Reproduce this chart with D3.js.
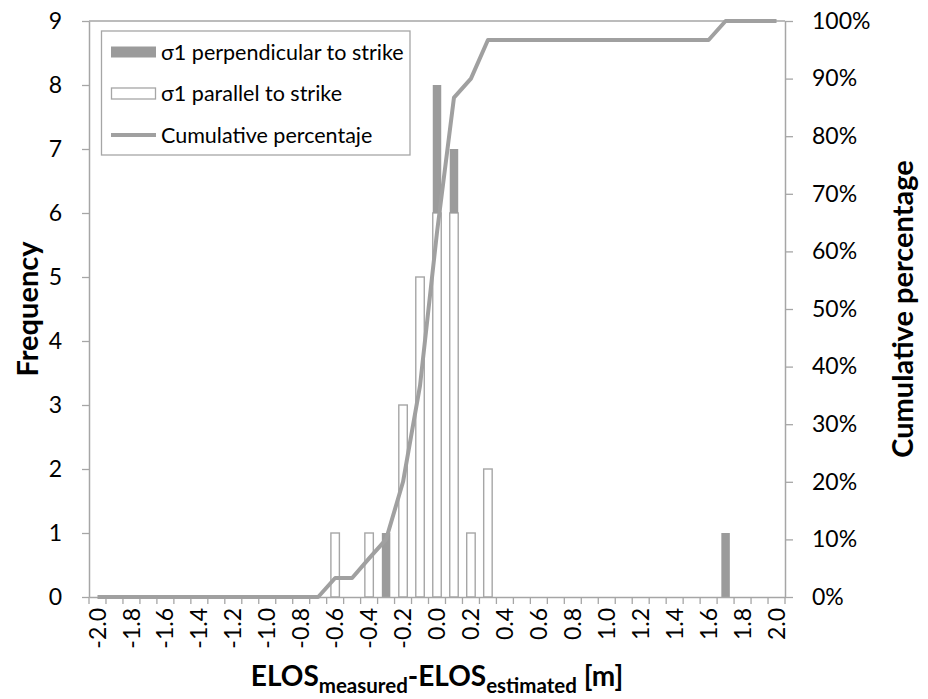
<!DOCTYPE html>
<html>
<head>
<meta charset="utf-8">
<script src="https://cdn.jsdelivr.net/npm/d3@7"></script>
<style>
  body { margin: 0; background: #fff; }
  svg { display: block; font-family: Lato, "Open Sans", sans-serif; }
</style>
</head>
<body>
<div id="chart"></div>
<script>
// bins of ELOS measured - ELOS estimated [m]
const categories = ["-2.0","-1.9","-1.8","-1.7","-1.6","-1.5","-1.4","-1.3","-1.2","-1.1",
  "-1.0","-0.9","-0.8","-0.7","-0.6","-0.5","-0.4","-0.3","-0.2","-0.1",
  "0.0","0.1","0.2","0.3","0.4","0.5","0.6","0.7","0.8","0.9",
  "1.0","1.1","1.2","1.3","1.4","1.5","1.6","1.7","1.8","1.9","2.0"];

// σ1 perpendicular to strike
const perpendicular = [0,0,0,0,0,0,0,0,0,0, 0,0,0,0,0,0,0,1,0,0, 2,1,0,0,0,0,0,0,0,0, 0,0,0,0,0,0,0,1,0,0,0];
// σ1 parallel to strike
const parallel      = [0,0,0,0,0,0,0,0,0,0, 0,0,0,0,1,0,1,0,3,5, 6,6,1,2,0,0,0,0,0,0, 0,0,0,0,0,0,0,0,0,0,0];
// cumulative percentage (%)
const cumulative    = [0,0,0,0,0,0,0,0,0,0, 0,0,0,0,3.3,3.3,6.7,10,20,36.7,
  63.3,86.7,90,96.7,96.7,96.7,96.7,96.7,96.7,96.7, 96.7,96.7,96.7,96.7,96.7,96.7,96.7,100,100,100,100];

const legendLabels = ["σ1 perpendicular to strike", "σ1 parallel to strike", "Cumulative percentaje"];

const width = 928, height = 699;
const margin = {t: 21, r: 143, b: 102, l: 89};
const grey = "#a6a6a6", barGrey = "#9b9b9b", lineGrey = "#a0a0a0";
const tickFont = 23;

const svg = d3.select("#chart").append("svg")
  .attr("width", width).attr("height", height);

const x = d3.scaleBand()
  .domain(categories)
  .range([margin.l, width - margin.r])
  .paddingInner(0.5)
  .paddingOuter(0.25);

const y = d3.scaleLinear().domain([0, 9]).range([height - margin.b, margin.t]);
const yPct = d3.scaleLinear().domain([0, 100]).range([height - margin.b, margin.t]);

// category boundaries for the tick marks
const xEdge = d3.scaleLinear().domain([0, categories.length]).range(x.range());

const rows = categories.map((c, i) => ({cat: c, parallel: parallel[i], perpendicular: perpendicular[i]}));
const stacked = d3.stack().keys(["parallel", "perpendicular"])(rows);

// plot area top border
svg.append("line")
  .attr("x1", x.range()[0]).attr("x2", x.range()[1])
  .attr("y1", margin.t).attr("y2", margin.t)
  .attr("stroke", grey).attr("stroke-width", 1.3);

// bars
const barStyle = {
  parallel: s => s.attr("fill", "#fff").attr("stroke", grey).attr("stroke-width", 1.4),
  perpendicular: s => s.attr("fill", barGrey).attr("stroke", "none")
};
stacked.forEach(layer => {
  svg.append("g").selectAll("rect")
    .data(layer.filter(d => d[1] > d[0]))
    .join("rect")
    .attr("x", d => x(d.data.cat))
    .attr("width", x.bandwidth())
    .attr("y", d => y(d[1]))
    .attr("height", d => y(d[0]) - y(d[1]))
    .call(barStyle[layer.key]);
});

// axes
const axisStyle = g => {
  g.select(".domain").attr("stroke", grey).attr("stroke-width", 1.5);
  g.selectAll(".tick line").attr("stroke", grey).attr("stroke-width", 1.3);
  g.selectAll("text").attr("fill", "#000").attr("font-size", tickFont).attr("font-family", "Lato");
};

svg.append("g")
  .attr("transform", `translate(${margin.l},0)`)
  .call(d3.axisLeft(y).ticks(9).tickSize(7).tickSizeOuter(0).tickPadding(20))
  .call(axisStyle);

svg.append("g")
  .attr("transform", `translate(${width - margin.r},0)`)
  .call(d3.axisRight(yPct).ticks(10).tickFormat(d => d + "%").tickSize(8).tickSizeOuter(0).tickPadding(19))
  .call(axisStyle);

const xAxis = svg.append("g")
  .attr("transform", `translate(0,${height - margin.b})`)
  .call(d3.axisBottom(x).tickValues(categories.filter((c, i) => i % 2 === 0)).tickSize(0).tickSizeOuter(0))
  .call(axisStyle);
xAxis.selectAll(".tick text")
  .attr("text-anchor", "end")
  .attr("transform", "rotate(-90)")
  .attr("x", -11).attr("y", 0).attr("dy", "0.35em");
xAxis.selectAll(".edge")
  .data(d3.range(categories.length + 1))
  .join("line")
  .attr("x1", i => xEdge(i)).attr("x2", i => xEdge(i))
  .attr("y1", 0).attr("y2", 7)
  .attr("stroke", grey).attr("stroke-width", 1.3);

// cumulative line
const line = d3.line()
  .x((d, i) => x(categories[i]) + x.bandwidth() / 2)
  .y(d => yPct(d));
svg.append("path")
  .datum(cumulative)
  .attr("d", line)
  .attr("fill", "none")
  .attr("stroke", lineGrey)
  .attr("stroke-width", 4)
  .attr("stroke-linejoin", "round");

// axis titles
const midY = (y.range()[0] + y.range()[1]) / 2;
svg.append("text")
  .attr("transform", `translate(38,${midY}) rotate(-90)`)
  .attr("text-anchor", "middle")
  .attr("font-size", 29).attr("font-weight", "bold")
  .text("Frequency");

svg.append("text")
  .attr("transform", `translate(913,${midY}) rotate(-90)`)
  .attr("text-anchor", "middle")
  .attr("font-size", 29).attr("font-weight", "bold")
  .text("Cumulative percentage");

const xt = svg.append("text")
  .attr("x", (x.range()[0] + x.range()[1]) / 2)
  .attr("y", 686)
  .attr("text-anchor", "middle")
  .attr("font-weight", "bold");
xt.append("tspan").attr("font-size", 28).text("ELOS");
xt.append("tspan").attr("font-size", 20.5).attr("dy", 7).text("measured");
xt.append("tspan").attr("font-size", 28).attr("dy", -7).text("-ELOS");
xt.append("tspan").attr("font-size", 20.5).attr("dy", 7).text("estimated");
xt.append("tspan").attr("font-size", 28).attr("dy", -7).text(" [m]");

// legend
const legend = svg.append("g");
legend.append("rect")
  .attr("x", 101.5).attr("y", 31)
  .attr("width", 308.5).attr("height", 124)
  .attr("fill", "#fff").attr("stroke", grey).attr("stroke-width", 1.3);

const rowY = d3.scalePoint().domain(legendLabels).range([52, 135]);
const items = legend.selectAll("g.item")
  .data(legendLabels)
  .join("g")
  .attr("class", "item")
  .attr("transform", d => `translate(111,${rowY(d)})`);

items.filter((d, i) => i === 0).append("rect")
  .attr("x", 0).attr("y", -5.5).attr("width", 45).attr("height", 11)
  .attr("fill", barGrey);
items.filter((d, i) => i === 1).append("rect")
  .attr("x", 0.5).attr("y", -5.5).attr("width", 44).attr("height", 11)
  .attr("fill", "#fff").attr("stroke", grey).attr("stroke-width", 1.3);
items.filter((d, i) => i === 2).append("line")
  .attr("x1", 0).attr("x2", 45)
  .attr("stroke", lineGrey).attr("stroke-width", 4);

items.append("text")
  .attr("x", 50)
  .attr("dy", "0.35em")
  .attr("font-size", 21.5)
  .text(d => d);
</script>
</body>
</html>
